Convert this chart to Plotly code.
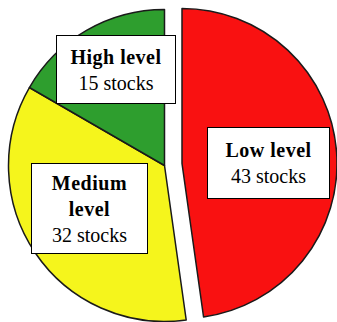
import plotly.graph_objects as go

categories = ["Low level", "Medium level", "High level"]
stocks = [43, 32, 15]
colors = ["#F91111", "#F5F51C", "#2E9E2E"]

W, H = 337, 322
LINE = "#1a1a1a"
TRANSP = "rgba(0,0,0,0)"

def px_dom_x(a, b):
    return [a / W, b / W]

def px_dom_y(top, bottom):
    return [1 - bottom / H, 1 - top / H]

fig = go.Figure()

# main pie (medium + high), low slice left transparent
fig.add_trace(go.Pie(
    labels=categories, values=stocks, sort=False, direction="clockwise", rotation=0,
    marker=dict(colors=[TRANSP, colors[1], colors[2]],
                line=dict(color=LINE, width=[0, 1.5, 1.5])),
    textinfo="none", hoverinfo="skip", showlegend=False,
    domain=dict(x=px_dom_x(8.5, 320.5), y=px_dom_y(9.5, 321.5)),
))
# exploded low slice
fig.add_trace(go.Pie(
    labels=categories, values=stocks, sort=False, direction="clockwise", rotation=0,
    marker=dict(colors=[colors[0], TRANSP, TRANSP],
                line=dict(color=LINE, width=[1.5, 0, 0])),
    textinfo="none", hoverinfo="skip", showlegend=False,
    domain=dict(x=px_dom_x(27, 337), y=px_dom_y(8.5, 318.5)),
))

# label boxes: (center x px, center y px, width, height)
boxes = [(268.5, 163, 121, 70), (89.5, 208.5, 115, 89), (116, 69.5, 118, 67)]
for cat, n, (cx, cy, bw, bh) in zip(categories, stocks, boxes):
    name = cat.replace("Medium level", "Medium<br>level")
    fig.add_annotation(
        text=f"<b><span style='letter-spacing:0.5px'>{name}</span></b><br>{n} stocks",
        x=cx / W, y=1 - cy / H, xref="paper", yref="paper",
        xanchor="center", yanchor="middle", showarrow=False,
        width=bw, height=bh, align="center", valign="middle",
        bgcolor="white", bordercolor="black", borderwidth=1, borderpad=0,
        font=dict(family="Liberation Serif, Times New Roman, serif", size=20, color="black"),
    )

fig.update_layout(
    width=W, height=H, margin=dict(l=0, r=0, t=0, b=0),
    paper_bgcolor="white", plot_bgcolor="white",
)
fig.write_html("out.html")
